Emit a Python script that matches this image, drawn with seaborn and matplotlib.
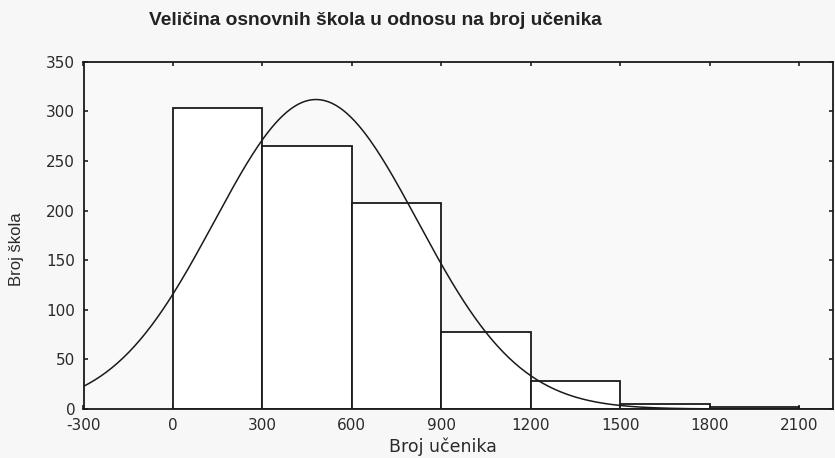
import numpy as np
import pandas as pd
import matplotlib
matplotlib.use("Agg")
import matplotlib.pyplot as plt
from matplotlib.font_manager import FontProperties
import seaborn as sns

# Data
bin_edges = [0, 300, 600, 900, 1200, 1500, 1800, 2100]
counts = [303, 265, 208, 78, 28, 5, 2]
fit_mean = 480
fit_sd = 341
x_ticks = [-300, 0, 300, 600, 900, 1200, 1500, 1800, 2100]
y_ticks = [0, 50, 100, 150, 200, 250, 300, 350]
title = "Veličina osnovnih škola u odnosu na broj učenika"
xlabel = "Broj učenika"
ylabel = "Broj škola"

sns.set_theme(style="white")
plt.rcParams["font.family"] = ["DejaVu Sans"]
plt.rcParams["axes.unicode_minus"] = False

fig = plt.figure(figsize=(8.35, 4.58), dpi=100)
fig.patch.set_facecolor("#f7f7f7")
ax = fig.add_axes([0.1, 0.107, 0.898, 0.758])
ax.set_facecolor("#f9f9f9")

mids = [(a + b) / 2 for a, b in zip(bin_edges[:-1], bin_edges[1:])]
df = pd.DataFrame({"mid": mids, "count": counts})
sns.histplot(data=df, x="mid", weights="count", bins=bin_edges, ax=ax,
             color="white", edgecolor="#1a1a1a", linewidth=1.3, alpha=1)

# fitted normal curve (scaled to counts * bin width)
n_total = sum(counts)
width = bin_edges[1] - bin_edges[0]
xs = np.linspace(-300, 2240, 400)
ys = n_total * width / (fit_sd * np.sqrt(2 * np.pi)) * np.exp(-0.5 * ((xs - fit_mean) / fit_sd) ** 2)
sns.lineplot(x=xs, y=ys, ax=ax, color="#1a1a1a", linewidth=1.1)

ax.set_xlim(-295, 2215)
ax.set_ylim(0, 350)
ax.set_xticks(x_ticks)
ax.set_yticks(y_ticks)
ax.tick_params(axis="both", labelsize=11, colors="#2a2a2a", direction="in",
               length=3, top=True, right=True, bottom=True, left=True)
ax.tick_params(axis="x", pad=6.5)
ax.tick_params(axis="y", pad=6)

ax.set_xlabel(xlabel, fontproperties=FontProperties(family="DejaVu Sans", size=12.5),
              color="#2a2a2a")
ax.xaxis.label.set_va("center")
ax.xaxis.set_label_coords(0.48, -0.11)
ax.set_ylabel(ylabel, fontproperties=FontProperties(family="Liberation Sans", size=12),
              color="#2a2a2a")
ax.yaxis.set_label_coords(-0.079, 0.46)
for s in ax.spines.values():
    s.set_visible(True)
    s.set_color("#1a1a1a")
    s.set_linewidth(1.3)

fig.text(0.45, 0.955, title, ha="center", va="center",
         fontproperties=FontProperties(family="Liberation Sans", size=13.8, weight="bold"),
         color="#222222")

fig.savefig("out.png", dpi=100, facecolor=fig.get_facecolor())
